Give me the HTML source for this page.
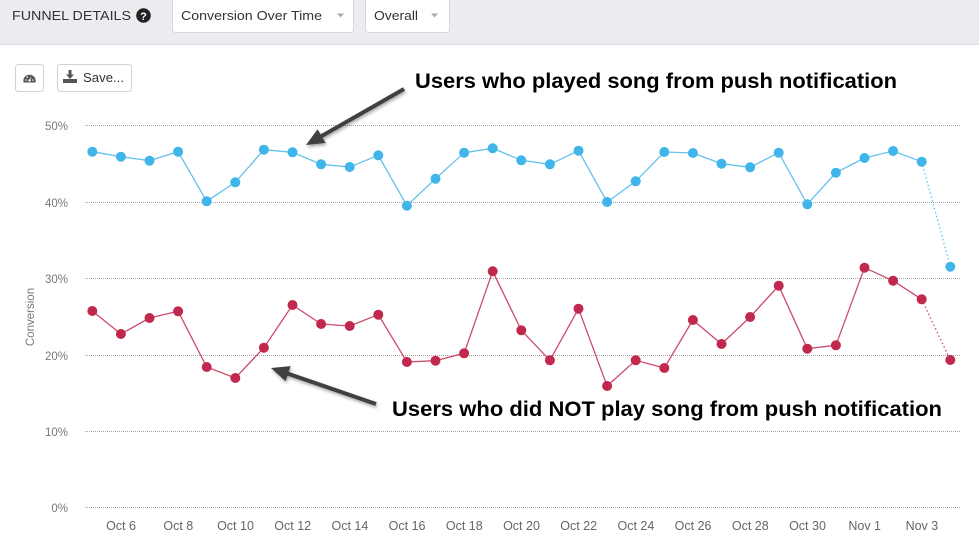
<!DOCTYPE html>
<html>
<head>
<meta charset="utf-8">
<style>
  html,body{margin:0;padding:0;background:#fff;}
  body{width:979px;height:549px;overflow:hidden;font-family:"Liberation Sans",Arial,sans-serif;}
  svg{display:block;}
</style>
</head>
<body>
<svg width="979" height="549" viewBox="0 0 979 549" xmlns="http://www.w3.org/2000/svg" font-family="Liberation Sans, Arial, sans-serif">
  <defs>
    <filter id="sh" x="-20%" y="-20%" width="140%" height="160%">
      <feDropShadow dx="1" dy="2" stdDeviation="1.5" flood-color="#000" flood-opacity="0.35"/>
    </filter>
  </defs>

  <!-- header bar -->
  <rect x="0" y="0" width="979" height="45" fill="#eaecef"/>
  <line x1="0" y1="44.5" x2="979" y2="44.5" stroke="#dcdee1" stroke-width="1"/>
  <text x="12" y="20" font-size="13" fill="#333" textLength="119" lengthAdjust="spacingAndGlyphs">FUNNEL DETAILS</text>
  <circle cx="143.5" cy="15.5" r="7.3" fill="#222"/>
  <text x="143.5" y="19.8" font-size="11" font-weight="bold" fill="#fff" text-anchor="middle">?</text>

  <rect x="172.5" y="-4" width="181" height="36.5" rx="3" fill="#fff" stroke="#d6d8db"/>
  <text x="181" y="20" font-size="13" fill="#333" textLength="141" lengthAdjust="spacingAndGlyphs">Conversion Over Time</text>
  <path d="M337 13.5 L344 13.5 L340.5 17.5 Z" fill="#aaa"/>

  <rect x="365.5" y="-4" width="84" height="36.5" rx="3" fill="#fff" stroke="#d6d8db"/>
  <text x="374" y="20" font-size="13" fill="#333" textLength="44" lengthAdjust="spacingAndGlyphs">Overall</text>
  <path d="M431 13.5 L438 13.5 L434.5 17.5 Z" fill="#aaa"/>

  <!-- buttons -->
  <rect x="15.5" y="64.5" width="28" height="27" rx="3" fill="#fff" stroke="#cfd1d4"/>
  <path d="M23.5 82.5 A6.2 6.2 0 1 1 35.5 82.5 Z" fill="#555"/>
  <g fill="#fff">
    <circle cx="29.5" cy="80.5" r="1.2"/>
    <path d="M29 80.5 L31.5 76 L30.2 80.8 Z"/>
    <circle cx="26" cy="80" r="0.8"/>
    <circle cx="33" cy="80" r="0.8"/>
    <circle cx="27.3" cy="77" r="0.8"/>
  </g>

  <rect x="57.5" y="64.5" width="74" height="27" rx="3" fill="#fff" stroke="#cfd1d4"/>
  <g fill="#555">
    <rect x="68.5" y="70" width="3" height="5"/>
    <path d="M66 74.5 L74 74.5 L70 79 Z"/>
    <rect x="63" y="79" width="14" height="4"/>
  </g>
  <text x="83" y="82" font-size="12.5" fill="#333" textLength="41" lengthAdjust="spacingAndGlyphs">Save...</text>

  <!-- gridlines -->
  <g stroke="#a5a5a5" stroke-width="1" stroke-dasharray="1,1">
    <line x1="85" y1="125.5" x2="961" y2="125.5"/>
    <line x1="85" y1="202.5" x2="961" y2="202.5"/>
    <line x1="85" y1="278.5" x2="961" y2="278.5"/>
    <line x1="85" y1="355.5" x2="961" y2="355.5"/>
    <line x1="85" y1="431.5" x2="961" y2="431.5"/>
    <line x1="85" y1="507.5" x2="961" y2="507.5"/>
  </g>

  <!-- y labels -->
  <g font-size="11.5" fill="#777" text-anchor="end">
    <text x="68" y="130">50%</text>
    <text x="68" y="207">40%</text>
    <text x="68" y="283">30%</text>
    <text x="68" y="360">20%</text>
    <text x="68" y="436">10%</text>
    <text x="68" y="512">0%</text>
  </g>
  <text transform="translate(34,317) rotate(-90)" font-size="11.5" fill="#777" text-anchor="middle">Conversion</text>

  <!-- x labels -->
  <g font-size="12.5" fill="#666" text-anchor="middle">
    <text x="121" y="530">Oct 6</text>
    <text x="178.3" y="530">Oct 8</text>
    <text x="235.5" y="530">Oct 10</text>
    <text x="292.7" y="530">Oct 12</text>
    <text x="349.9" y="530">Oct 14</text>
    <text x="407.1" y="530">Oct 16</text>
    <text x="464.3" y="530">Oct 18</text>
    <text x="521.5" y="530">Oct 20</text>
    <text x="578.7" y="530">Oct 22</text>
    <text x="635.9" y="530">Oct 24</text>
    <text x="693.1" y="530">Oct 26</text>
    <text x="750.3" y="530">Oct 28</text>
    <text x="807.5" y="530">Oct 30</text>
    <text x="864.7" y="530">Nov 1</text>
    <text x="921.9" y="530">Nov 3</text>
  </g>

  <!-- blue series -->
  <polyline fill="none" stroke="#62c2ec" stroke-width="1.3" points="92.3,151.7 120.9,156.7 149.5,160.7 178.1,151.7 206.7,201.3 235.3,182.3 263.9,149.7 292.5,152.3 321.1,164.3 349.7,167 378.3,155.3 406.9,205.7 435.5,178.7 464.1,152.7 492.7,148.3 521.3,160.3 549.9,164.3 578.5,150.7 607.1,202 635.7,181.3 664.3,152 692.9,153 721.5,163.7 750.1,167.3 778.7,152.7 807.3,204.3 835.9,172.7 864.5,158 893.1,151 921.7,161.7"/>
  <line x1="921.7" y1="161.7" x2="950.3" y2="266.7" stroke="#62c2ec" stroke-width="1.3" stroke-dasharray="1.5,2.5"/>
  <g fill="#3fb5ea">
    <circle cx="92.3" cy="151.7" r="5"/><circle cx="120.9" cy="156.7" r="5"/><circle cx="149.5" cy="160.7" r="5"/><circle cx="178.1" cy="151.7" r="5"/><circle cx="206.7" cy="201.3" r="5"/><circle cx="235.3" cy="182.3" r="5"/><circle cx="263.9" cy="149.7" r="5"/><circle cx="292.5" cy="152.3" r="5"/><circle cx="321.1" cy="164.3" r="5"/><circle cx="349.7" cy="167" r="5"/><circle cx="378.3" cy="155.3" r="5"/><circle cx="406.9" cy="205.7" r="5"/><circle cx="435.5" cy="178.7" r="5"/><circle cx="464.1" cy="152.7" r="5"/><circle cx="492.7" cy="148.3" r="5"/><circle cx="521.3" cy="160.3" r="5"/><circle cx="549.9" cy="164.3" r="5"/><circle cx="578.5" cy="150.7" r="5"/><circle cx="607.1" cy="202" r="5"/><circle cx="635.7" cy="181.3" r="5"/><circle cx="664.3" cy="152" r="5"/><circle cx="692.9" cy="153" r="5"/><circle cx="721.5" cy="163.7" r="5"/><circle cx="750.1" cy="167.3" r="5"/><circle cx="778.7" cy="152.7" r="5"/><circle cx="807.3" cy="204.3" r="5"/><circle cx="835.9" cy="172.7" r="5"/><circle cx="864.5" cy="158" r="5"/><circle cx="893.1" cy="151" r="5"/><circle cx="921.7" cy="161.7" r="5"/><circle cx="950.3" cy="266.7" r="5"/>
  </g>

  <!-- red series -->
  <polyline fill="none" stroke="#cc4a6c" stroke-width="1.3" points="92.3,311 120.9,334 149.5,318 178.1,311.3 206.7,367 235.3,378 263.9,347.7 292.5,305 321.1,324 349.7,326 378.3,314.7 406.9,362 435.5,360.7 464.1,353.3 492.7,271.3 521.3,330.3 549.9,360.3 578.5,308.7 607.1,386 635.7,360.3 664.3,368 692.9,320 721.5,344 750.1,317 778.7,285.7 807.3,348.7 835.9,345.3 864.5,267.7 893.1,280.7 921.7,299.3"/>
  <line x1="921.7" y1="299.3" x2="950.3" y2="360" stroke="#cc4a6c" stroke-width="1.3" stroke-dasharray="1.5,2.5"/>
  <g fill="#c1284e">
    <circle cx="92.3" cy="311" r="5"/><circle cx="120.9" cy="334" r="5"/><circle cx="149.5" cy="318" r="5"/><circle cx="178.1" cy="311.3" r="5"/><circle cx="206.7" cy="367" r="5"/><circle cx="235.3" cy="378" r="5"/><circle cx="263.9" cy="347.7" r="5"/><circle cx="292.5" cy="305" r="5"/><circle cx="321.1" cy="324" r="5"/><circle cx="349.7" cy="326" r="5"/><circle cx="378.3" cy="314.7" r="5"/><circle cx="406.9" cy="362" r="5"/><circle cx="435.5" cy="360.7" r="5"/><circle cx="464.1" cy="353.3" r="5"/><circle cx="492.7" cy="271.3" r="5"/><circle cx="521.3" cy="330.3" r="5"/><circle cx="549.9" cy="360.3" r="5"/><circle cx="578.5" cy="308.7" r="5"/><circle cx="607.1" cy="386" r="5"/><circle cx="635.7" cy="360.3" r="5"/><circle cx="664.3" cy="368" r="5"/><circle cx="692.9" cy="320" r="5"/><circle cx="721.5" cy="344" r="5"/><circle cx="750.1" cy="317" r="5"/><circle cx="778.7" cy="285.7" r="5"/><circle cx="807.3" cy="348.7" r="5"/><circle cx="835.9" cy="345.3" r="5"/><circle cx="864.5" cy="267.7" r="5"/><circle cx="893.1" cy="280.7" r="5"/><circle cx="921.7" cy="299.3" r="5"/><circle cx="950.3" cy="360" r="5"/>
  </g>

  <!-- annotations -->
  <g filter="url(#sh)">
    <line x1="404" y1="89" x2="320" y2="137" stroke="#3f3f3f" stroke-width="4"/>
    <polygon points="306,145 317.6,129.2 325.6,143" fill="#3f3f3f"/>
    <line x1="376" y1="404" x2="286" y2="373" stroke="#3f3f3f" stroke-width="4"/>
    <polygon points="271,368 290.6,366.1 285.6,381.3" fill="#3f3f3f"/>
  </g>
  <text x="415" y="88" font-size="21" font-weight="bold" fill="#000" textLength="482" lengthAdjust="spacingAndGlyphs">Users who played song from push notification</text>
  <text x="392" y="416" font-size="21" font-weight="bold" fill="#000" textLength="550" lengthAdjust="spacingAndGlyphs">Users who did NOT play song from push notification</text>
</svg>
</body>
</html>
